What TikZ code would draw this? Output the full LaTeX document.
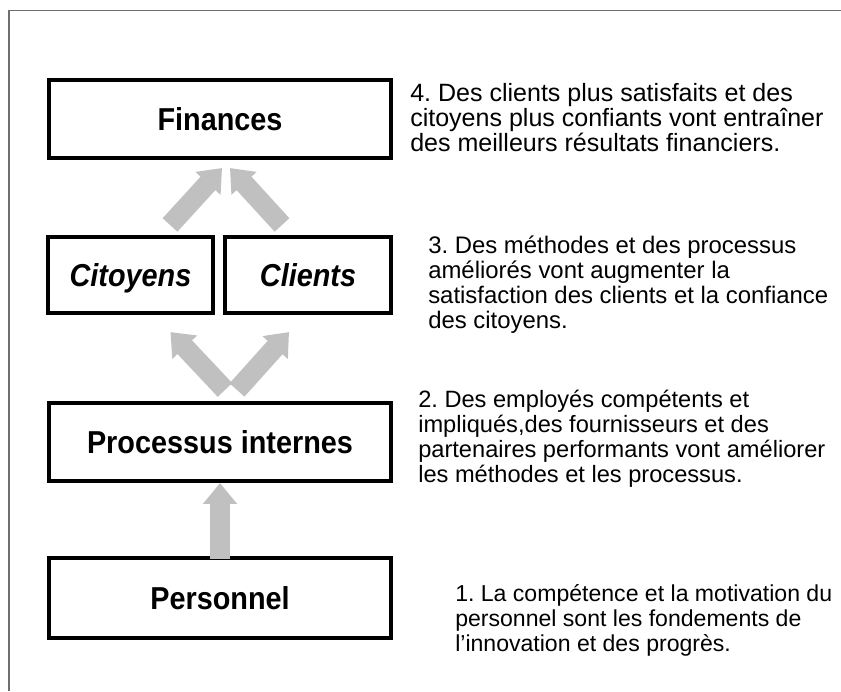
\documentclass[tikz,border=0pt]{standalone}
\usepackage{fontspec}
\setmainfont{Liberation Sans}
\frenchspacing
\usetikzlibrary{arrows.meta, calc}
\definecolor{bscgrey}{HTML}{C0C0C0}
\definecolor{bscframe}{HTML}{6E6E6E}
\newcommand\tallbox[1]{\scalebox{1}[1.1]{#1}}

\begin{document}
\begin{tikzpicture}[x=0.025cm, y=-0.025cm,
  box/.style={draw=black, line width=2.9pt, fill=white, inner sep=0pt,
    minimum height=1.9cm, text height=16.2pt, text depth=0pt,
    font=\fontsize{20.5}{24}\selectfont\bfseries},
  blockarrow/.style={draw=bscgrey, line width=0.5cm,
    -{Triangle[length=0.52cm, width=0.82cm]}},
  note/.style={anchor=base west, align=left, inner sep=0pt,
    font=\fontsize{16.8}{17.7}\selectfont}]
  \useasboundingbox (0,0) rectangle (841,691);
  % frame
  \draw[bscframe, line width=1.4pt] (9,691) -- (9,10.5) -- (841,10.5);
  % perspectives
  \node[box, minimum width=8.55cm, minimum height=1.95cm] (fin) at (220,119) {\tallbox{Finances}};
  \node[box, minimum width=4.125cm, font=\fontsize{20.5}{24}\selectfont\bfseries\itshape] (cit) at (130.5,275) {\tallbox{Citoyens}};
  \node[box, minimum width=4.15cm, font=\fontsize{20.5}{24}\selectfont\bfseries\itshape] (cli) at (308,275) {\tallbox{Clients}};
  \node[box, minimum width=8.55cm, minimum height=1.95cm] (pro) at (220,442) {\tallbox{Processus internes}};
  \node[box, minimum width=8.55cm, minimum height=2.0cm] (per) at (220,598) {\tallbox{Personnel}};
  % arrows
  \draw[blockarrow] ($(cit.north)+(39.5,-10)$) -- ($(fin.south)+(2,8)$);
  \draw[blockarrow] ($(cli.north)+(-26,-10)$) -- ($(fin.south)+(10,8)$);
  \draw[blockarrow] ($(pro.north)+(5,-11)$) -- ($(cit.south)+(40,17)$);
  \draw[blockarrow] ($(pro.north)+(17,-11)$) -- ($(cli.south)+(-19,17)$);
  \draw[blockarrow] ($(per.north)+(0,3)$) -- (pro.south);
  % explanations (anchored on the last line)
  \node[note, font=\fontsize{17.8}{17.7}\selectfont] (t4) at (410,151) {4. Des clients plus satisfaits et des\\citoyens plus confiants vont entraîner\\des meilleurs résultats financiers.};
  \node[note, font=\fontsize{17}{17.7}\selectfont] (t3) at (428,328) {3. Des méthodes et des processus\\améliorés vont augmenter la\\satisfaction des clients et la confiance\\des citoyens.};
  \node[note] (t2) at (418,482) {2. Des employés compétents et\\impliqués,des fournisseurs et des\\partenaires performants vont améliorer\\les méthodes et les processus.};
  \node[note, font=\fontsize{16.4}{17.7}\selectfont] (t1) at (455,651) {1. La compétence et la motivation du\\personnel sont les fondements de\\l’innovation et des progrès.};
\end{tikzpicture}
\end{document}
